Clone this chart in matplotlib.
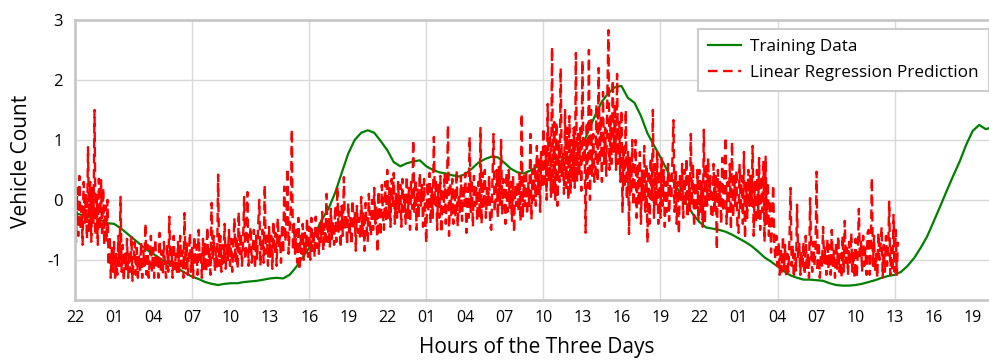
import numpy as np
import matplotlib
matplotlib.use("Agg")
import matplotlib.pyplot as plt
from matplotlib import rcParams

rcParams["font.family"] = ["Open Sans", "DejaVu Sans"]

# ========= データ =========
# 訓練データ（0.5時間ごと、22時起点）
train_step = 0.5
train_vals = [
    -0.22, -0.25, -0.28, -0.30, -0.34, -0.39, -0.40, -0.47, -0.56, -0.65,
    -0.74, -0.83, -0.90, -0.97, -1.04, -1.10, -1.16, -1.22, -1.28, -1.32,
    -1.37, -1.40, -1.42, -1.40, -1.39, -1.39, -1.37, -1.36, -1.35, -1.33,
    -1.31, -1.30, -1.31, -1.25, -1.12, -0.96, -0.80, -0.55, -0.32, -0.14,
    0.12, 0.45, 0.77, 1.00, 1.12, 1.16, 1.12, 0.98, 0.83, 0.63,
    0.56, 0.61, 0.64, 0.66, 0.56, 0.50, 0.46, 0.44, 0.41, 0.39,
    0.43, 0.52, 0.62, 0.68, 0.72, 0.71, 0.62, 0.52, 0.46, 0.44,
    0.49, 0.55, 0.60, 0.66, 0.69, 0.72, 0.64, 0.72, 0.90, 1.17,
    1.42, 1.64, 1.78, 1.88, 1.90, 1.70, 1.62, 1.40, 1.11, 0.91,
    0.71, 0.50, 0.30, 0.12, -0.06, -0.24, -0.37, -0.46, -0.48, -0.50,
    -0.53, -0.58, -0.64, -0.70, -0.77, -0.86, -0.96, -1.03, -1.11, -1.19,
    -1.26, -1.30, -1.33, -1.33, -1.34, -1.35, -1.39, -1.42, -1.43, -1.43,
    -1.42, -1.40, -1.37, -1.34, -1.30, -1.27, -1.25, -1.20, -1.10, -0.97,
    -0.80, -0.61, -0.36, -0.11, 0.15, 0.40, 0.64, 0.92, 1.15, 1.25,
    1.18, 1.21,
]

# 線形回帰の予測（5分ごと、1行 = 1時間）
pred_step = 1 / 12
pred_vals = [
    -0.30, -0.70, 0.20, -0.60, 0.40, -0.50, -0.10, -0.75, 0.30, -0.40, 0.10, -0.65,
    0.88, -0.55, 0.30, -0.70, 0.20, -0.40, 1.50, -0.60, 0.10, -0.75, 0.35, -0.50,
    0.33, -0.60, 0.20, -0.75, -0.10, -0.70, 0.00, -1.10, -0.60, -1.30, -0.80, -1.20,
    -0.70, -1.30, -0.90, -1.25, -0.60, -1.10, 0.05, -1.20, -0.75, -1.35, -0.90, -1.15,
    -0.65, -1.30, -0.85, -1.20, -0.60, -1.35, -1.00, -0.70, -1.25, -0.80, -1.30, -0.90,
    -1.20, -0.70, -1.30, -0.85, -1.10, -0.39, -1.25, -0.75, -1.30, -1.00, -0.60, -1.20,
    -0.80, -1.30, -0.65, -1.15, -0.90, -1.30, -0.55, -1.20, -0.85, -1.25, -0.70, -1.10,
    -1.30, -0.75, -1.20, -0.28, -1.10, -0.80, -1.30, -0.60, -1.15, -0.90, -1.25, -0.70,
    -1.20, -0.60, -1.10, -0.85, -1.30, -0.22, -1.15, -0.70, -1.25, -0.90, -0.55, -1.20,
    -0.80, -1.30, -0.60, -1.10, -0.75, -1.25, -0.50, -1.00, -0.85, -1.30, -0.65, -1.15,
    -0.70, -1.20, -0.45, -1.10, -0.80, -1.25, -0.05, -1.00, -0.60, -1.20, -0.80, -1.15,
    0.42, -1.10, -0.60, -1.20, -0.75, -1.05, -0.40, -1.15, -0.70, -1.00, -0.50, -1.10,
    -0.65, -1.20, -0.80, -0.30, -1.05, -0.60, -1.15, -0.20, -0.90, -0.55, -1.10, -0.70,
    0.05, -1.00, -0.60, 0.13, -1.10, -0.70, -0.45, -1.05, -0.80, -0.50, -1.15, -0.60,
    -1.00, -0.40, 0.00, -1.10, -0.75, -0.50, -1.05, 0.25, -0.90, -0.60, -1.10, -0.45,
    -0.95, -0.60, -1.15, -0.35, -0.90, -0.55, -1.10, -0.30, -0.80, -0.60, -1.05, -0.40,
    -0.90, 0.22, -0.70, -0.35, 0.53, -0.90, -0.50, -0.20, 1.18, -0.85, -0.40, -0.90,
    -0.50, -1.05, -0.30, -1.17, -0.60, -0.90, -0.40, -1.00, -0.55, -0.85, -0.30, -0.95,
    -0.45, -1.00, -0.30, -0.85, -0.50, -0.95, -0.28, -0.80, -0.45, -0.90, -0.35, -0.70,
    -0.20, -0.85, -0.40, -0.75, 0.10, -0.70, -0.30, -0.80, -0.15, -0.65, -0.35, -0.75,
    -0.10, -0.70, 0.22, -0.55, -0.20, -0.80, -0.10, -0.60, 0.38, -0.50, -0.25, -0.75,
    -0.05, -0.60, -0.30, -0.75, 0.00, -0.50, -0.20, -0.85, -0.10, -0.55, -0.30, -0.65,
    0.05, -0.60, -0.20, -0.85, -0.05, -0.45, -0.70, 0.10, -0.40, -0.60, 0.00, -0.50,
    0.20, -0.40, -0.10, -0.88, 0.15, -0.30, -0.60, 0.25, -0.20, -0.50, 0.30, -0.35,
    0.50, -0.30, 0.20, -0.45, 0.35, -0.10, 0.45, -0.40, 0.10, -0.30, 0.30, -0.20,
    0.25, -0.45, 0.35, -0.20, 0.10, -0.40, 0.40, -0.30, 0.20, -0.50, 0.30, -0.15,
    1.00, -0.20, 0.35, -0.50, 0.20, -0.30, 0.45, -0.10, 0.25, -0.45, 0.35, -0.30,
    -0.72, 0.30, -0.20, 0.45, -0.40, 0.20, -0.30, 1.05, -0.10, 0.35, -0.50, 0.25,
    -0.30, 0.40, -0.55, 0.20, -0.20, 0.45, -0.40, 0.10, 1.25, -0.60, 0.30, -0.25,
    0.35, -0.40, 0.20, -0.30, 0.50, -0.45, 0.10, -0.20, 0.40, -0.35, 0.25, -0.10,
    0.45, -0.55, 0.20, -0.30, 1.05, -0.20, 0.35, -0.45, 0.40, -0.10, 0.20, -0.35,
    0.30, -0.30, 1.20, -0.40, 0.45, -0.15, 0.50, -0.30, 0.20, -0.10, 0.40, -0.45,
    -0.50, 0.30, 1.10, -0.20, 0.00, 0.50, -0.30, 0.55, -0.10, 1.00, -0.25, 0.35,
    0.20, -0.40, 0.45, -0.20, 0.50, -0.15, 0.30, -0.35, 0.40, -0.55, 0.25, -0.10,
    0.30, -0.20, 0.45, -0.35, 1.44, -0.30, 0.40, -0.10, 0.50, -0.25, 0.30, -0.10,
    1.10, -0.33, 0.50, 0.00, 0.60, -0.10, 0.90, 0.10, 0.70, -0.20, 0.80, 0.20,
    1.20, 0.20, 0.90, 0.00, 1.60, 0.30, 1.10, 0.05, 2.55, 0.10, 1.30, 0.00,
    1.30, -0.10, 1.00, 0.30, 2.20, 0.40, 0.80, 0.10, 1.50, 0.20, 1.20, 0.00,
    1.40, 0.10, 1.00, 0.30, 1.20, 0.20, 2.45, 0.30, 1.10, 0.40, 1.20, 0.15,
    2.33, 0.60, 1.00, -0.55, 1.30, 0.20, 2.50, 0.00, 1.50, 0.40, 1.10, 0.30,
    0.50, 1.60, 0.30, 2.20, 0.60, 1.40, 0.30, 1.80, 0.60, 1.20, 0.40, 1.70,
    2.83, 0.50, 1.40, 0.60, 2.00, 0.80, 1.60, 0.50, 2.10, 0.60, 1.30, 0.30,
    1.50, -0.20, 0.90, 0.20, 1.50, 0.00, 0.80, -0.57, 0.70, 0.10, 1.00, -0.10,
    0.20, 1.00, -0.30, 0.60, -0.10, 0.80, -0.40, 0.50, 0.00, 0.90, -0.20, 0.60,
    -0.72, 0.50, -0.40, 0.70, 0.00, 1.50, -0.30, 0.60, -0.10, 0.80, -0.40, 0.50,
    -0.30, 0.70, -0.10, 0.50, -0.45, 0.30, -0.20, 0.60, -0.35, 0.40, 0.00, 0.65,
    1.33, -0.20, 0.50, -0.40, 0.30, -0.57, 0.40, 0.00, 0.60, -0.30, 0.50, -0.10,
    0.70, -0.30, 0.40, -0.20, 1.10, -0.10, 0.60, -0.45, 0.30, -0.20, 0.50, -0.35,
    0.50, -0.20, 0.30, -0.45, 1.17, -0.40, 0.60, -0.10, 0.70, 0.00, 0.40, -0.30,
    -0.30, 0.60, -0.20, 0.40, -0.83, 0.50, -0.10, 0.30, -0.40, 0.70, -0.20, 0.50,
    1.05, -0.40, 0.30, -0.20, 0.60, -0.50, 0.97, -0.30, 0.40, -0.10, 0.50, -0.45,
    -0.55, 0.60, -0.20, 0.40, -0.40, 0.80, -0.65, 0.30, -0.30, 0.50, -0.10, 0.40,
    -0.10, 0.90, -0.60, 0.30, -0.40, 0.50, -0.30, 0.70, -0.50, 0.40, -0.20, 0.65,
    -0.70, 0.72, -0.40, 0.30, -0.60, 0.00, -0.88, -0.30, 0.25, -0.70, -1.00, -0.60,
    -1.10, -0.70, -1.25, -0.80, -1.20, -0.60, -1.15, -0.75, -1.30, -0.90, -1.20, -0.65,
    0.20, -1.10, -0.75, -1.30, -0.90, -1.20, -0.08, -1.00, -0.70, -1.25, -0.85, -1.15,
    -0.70, -1.25, -0.60, -1.15, -0.90, -1.30, 0.03, -0.80, -1.20, -0.70, -1.10, -0.85,
    0.47, -1.20, -0.70, -1.30, -0.90, -1.10, -0.45, -1.05, -0.80, -1.25, -0.65, -1.15,
    -0.75, -1.25, -0.50, -1.10, -0.85, -1.30, -0.70, -1.15, -0.60, -1.20, -0.90, -1.30,
    -0.60, -1.20, -0.35, -1.05, -0.80, -1.25, -0.70, -1.10, -0.55, -1.20, -0.85, -1.30,
    -0.65, -1.30, -0.90, -0.15, -1.00, -0.70, -1.20, -0.60, -1.10, -0.80, -1.25, -0.55,
    -0.50, -1.25, -0.80, 0.37, -1.10, -0.60, -1.20, -0.90, -1.30, -0.55, -1.00, -0.75,
    -0.45, -1.30, -0.75, -1.20, -0.60, -1.10, -0.90, -0.03, -1.25, -0.80, -1.20, -0.25,
    -1.20, -0.50, -1.25, -0.70,
]

# 目盛り（3時間ごとのラベル、9時間ごとのグリッド）
tick_hours = list(range(0, 70, 3))
tick_labels = ["22", "01", "04", "07", "10", "13", "16", "19",
               "22", "01", "04", "07", "10", "13", "16", "19",
               "22", "01", "04", "07", "10", "13", "16", "19"]
grid_hours = list(range(9, 70, 9))
y_ticks = [-1, 0, 1, 2, 3]

# ========= 描画 =========
W, H = 989, 361
fig = plt.figure(figsize=(W / 100, H / 100), dpi=100)
ax = fig.add_axes([75 / W, 1 - 300 / H, (1005 - 75) / W, 280 / H])

train_x = np.arange(len(train_vals)) * train_step
pred_x = np.arange(len(pred_vals)) * pred_step

ax.plot(train_x, train_vals, color="green", lw=1.6, label="Training Data")
ax.plot(pred_x, pred_vals, color="red", lw=1.7, ls=(0, (4, 2.4)),
        label="Linear Regression Prediction")

ax.set_xlim(0, (1005 - 75) / 13.01)
ax.set_ylim(-1.67, 3)

ax.set_xticks(tick_hours)
ax.set_xticklabels(tick_labels, fontsize=11.5)
ax.set_xticks(grid_hours, minor=True)
ax.xaxis.remove_overlapping_locs = False
ax.set_yticks(y_ticks)
ax.set_yticklabels([str(v) for v in y_ticks], fontsize=12)
ax.tick_params(which="both", length=0)
ax.tick_params(axis="x", pad=7)
ax.tick_params(axis="y", pad=9)

ax.grid(axis="y", color="#d9d9d9", lw=1)
ax.grid(axis="x", which="minor", color="#d9d9d9", lw=1)
ax.set_axisbelow(True)
for sp in ax.spines.values():
    sp.set_color("#c8c8c8")
    sp.set_linewidth(2)

ax.set_xlabel("Hours of the Three Days", fontsize=15, va="center")
ax.xaxis.set_label_coords(537 / W, 1 - 347 / H, transform=fig.transFigure)
ax.set_ylabel("Vehicle Count", fontsize=15, va="center")
ax.yaxis.set_label_coords(22 / W, 1 - 161 / H, transform=fig.transFigure)

leg = ax.legend(loc="upper left", bbox_to_anchor=(698 / W, 1 - 29 / H),
                bbox_transform=fig.transFigure, borderaxespad=0,
                fontsize=12.3, fancybox=False, edgecolor="#cccccc",
                framealpha=1, handlelength=1.9, handletextpad=0.55,
                borderpad=0.6, labelspacing=0.55)
leg.get_frame().set_linewidth(1.5)

fig.savefig("out.png", dpi=100)
